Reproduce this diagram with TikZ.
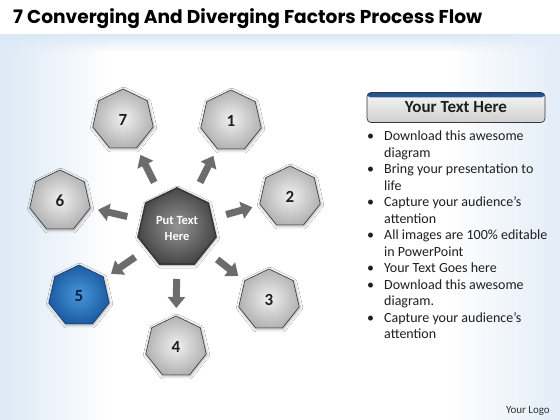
\documentclass[tikz,border=0pt]{standalone}
\usepackage{fontspec}
\setmainfont{Carlito}
\newfontfamily\titlefont{Poppins}
\usetikzlibrary{shapes.geometric,arrows.meta,shadows.blur,fadings}
\definecolor{bgblue}{RGB}{220,233,246}
\definecolor{arrowgray}{RGB}{108,108,108}
\definecolor{bluein}{RGB}{72,150,218}
\definecolor{blueout}{RGB}{28,92,162}
\definecolor{blueedge}{RGB}{22,55,100}
\definecolor{barblue}{RGB}{30,80,145}
\tikzfading[name=fadeRight, left color=transparent!0, right color=transparent!100]
\tikzfading[name=fadeLeft, left color=transparent!100, right color=transparent!0]
\begin{document}
\begin{tikzpicture}[x=1pt,y=-1pt,
  hepta/.style={regular polygon, regular polygon sides=7, inner sep=0pt,
    minimum size=62pt, shading=radial, inner color=gray!12, outer color=gray!60,
    draw=gray!45!black, line width=0.6pt,
    blur shadow={shadow xshift=0.6pt,shadow yshift=-1pt,shadow blur radius=3pt,shadow opacity=40},
    font=\fontsize{17}{17}\selectfont\bfseries, text=black!88},
  bluehepta/.style={hepta, inner color=bluein, outer color=blueout, draw=blueedge,
    text={rgb,255:red,15;green,30;blue,60}},
  centerhepta/.style={hepta, minimum size=80pt, inner color=black!42, outer color=black!72,
    draw=black!78, line width=1.6pt, text=white, align=center,
    font=\fontsize{12.5}{16}\selectfont\bfseries},
  fatarrow/.style={line width=7pt, draw=arrowgray, -{Triangle[length=11pt,width=17pt]},
    shorten <=51pt, shorten >=39pt},
  bar/.style={rounded corners=4pt, minimum width=178pt, minimum height=30pt,
    top color=gray!6, bottom color=gray!38, draw=gray!45!black, line width=0.7pt,
    path picture={\shade[top color=barblue, bottom color=barblue!70] (path picture bounding box.north west) rectangle ([yshift=-5pt]path picture bounding box.north east);},
    font=\fontsize{17}{17}\selectfont\bfseries, text=black!88},
]
\useasboundingbox (0,0) rectangle (560,420);
% background
\fill[white] (0,0) rectangle (560,420);
\shade[top color=bgblue, bottom color=white] (0,35) rectangle (560,52);
\fill[bgblue, path fading=fadeRight] (0,35) rectangle (110,420);
\fill[bgblue!80, path fading=fadeLeft] (450,35) rectangle (560,420);

% title
\node[anchor=base west, inner sep=0pt, font=\titlefont\bfseries\fontsize{18.6}{18.6}\selectfont] (title) at (13,24)
  {7 Converging And Diverging Factors Process Flow};

% heptagons
\node[centerhepta] (c) at (177,228) {Put Text\\Here};
\node[hepta] (n1) at (231,121) {1};
\node[hepta] (n2) at (290,197) {2};
\node[hepta] (n3) at (269,300) {3};
\node[hepta] (n4) at (176,347) {4};
\node[bluehepta] (n5) at (79,296) {5};
\node[hepta] (n6) at (60,201) {6};
\node[hepta] (n7) at (123,120) {7};

% arrows
\foreach \t in {n1,n2,n3,n4,n5,n6,n7}
  \draw[fatarrow] (c.center) -- (\t.center);

% right panel
\node[bar] (bar) at (456,107.5) {Your Text Here};
\node[anchor=north west, align=left, inner sep=0pt, font=\fontsize{14}{16.5}\selectfont, text=black!88] (list) at (367,131)
{\makebox[17pt][l]{•}Download this awesome\\
\hspace*{17pt}diagram\\
\makebox[17pt][l]{•}Bring your presentation to\\
\hspace*{17pt}life\\
\makebox[17pt][l]{•}Capture your audience’s\\
\hspace*{17pt}attention\\
\makebox[17pt][l]{•}All images are 100\% editable\\
\hspace*{17pt}in PowerPoint\\
\makebox[17pt][l]{•}Your Text Goes here\\
\makebox[17pt][l]{•}Download this awesome\\
\hspace*{17pt}diagram.\\
\makebox[17pt][l]{•}Capture your audience’s\\
\hspace*{17pt}attention};

\node[anchor=base east, inner sep=0pt, font=\fontsize{11}{11}\selectfont, text=black!80] (logo) at (550,413) {Your Logo};
\end{tikzpicture}
\end{document}
